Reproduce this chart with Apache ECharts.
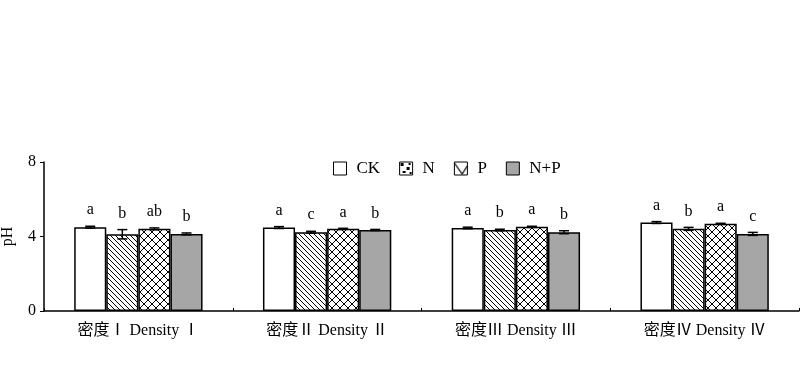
<!DOCTYPE html>
<html><head><meta charset="utf-8">
<script src="https://cdn.jsdelivr.net/npm/echarts@6/dist/echarts.min.js"></script>
<style>html,body{margin:0;padding:0;background:#fff}#c{width:800px;height:379px}</style>
</head><body><div id="c"></div>
<script>
const categories = ['密度Ⅰ Density Ⅰ', '密度Ⅱ Density Ⅱ', '密度Ⅲ Density Ⅲ', '密度Ⅳ Density Ⅳ'];
const seriesNames = ['CK', 'N', 'P', 'N+P'];
const valCK = [4.50, 4.48, 4.46, 4.75];
const valN  = [4.12, 4.23, 4.35, 4.41];
const valP  = [4.41, 4.41, 4.52, 4.68];
const valNP = [4.14, 4.35, 4.23, 4.14];
const errCK = [0.05, 0.05, 0.04, 0.05];
const errN  = [0.25, 0.05, 0.04, 0.08];
const errP  = [0.05, 0.03, 0.03, 0.03];
const errNP = [0.05, 0.03, 0.08, 0.08];
const letCK = ['a', 'a', 'a', 'a'];
const letN  = ['b', 'c', 'b', 'b'];
const letP  = ['ab', 'a', 'a', 'a'];
const letNP = ['b', 'b', 'b', 'c'];
const yTicks = [0, 4, 8];

const values = [valCK, valN, valP, valNP];
const errs = [errCK, errN, errP, errNP];
const lets = [letCK, letN, letP, letNP];

function pattern(kind, size) {
  const c = document.createElement('canvas');
  c.width = size; c.height = size;
  const g = c.getContext('2d');
  g.fillStyle = '#fff'; g.fillRect(0, 0, size, size);
  g.strokeStyle = '#000'; g.lineWidth = 1;
  if (kind === 'diag' || kind === 'cross') {
    g.beginPath();
    g.moveTo(-1, -1); g.lineTo(size + 1, size + 1);
    g.moveTo(-1, size - 1); g.lineTo(1, size + 1);
    g.moveTo(size - 1, -1); g.lineTo(size + 1, 1);
    g.stroke();
  }
  if (kind === 'cross') {
    g.beginPath();
    g.moveTo(-1, size + 1); g.lineTo(size + 1, -1);
    g.moveTo(-1, 1); g.lineTo(1, -1);
    g.moveTo(size - 1, size + 1); g.lineTo(size + 1, size - 1);
    g.stroke();
  }
  if (kind === 'check') {
    g.lineWidth = 1.2;
    g.beginPath();
    g.moveTo(0, 1); g.lineTo(size * 0.6, size - 1); g.lineTo(size, size * 0.3);
    g.stroke();
  }
  if (kind === 'dots') {
    g.fillStyle = '#000';
    g.fillRect(1, 1, 3, 3); g.fillRect(7, 5, 3, 3); g.fillRect(3, 9, 3, 2); g.fillRect(9, 1, 2, 2); g.fillRect(10, 10, 2, 2);
  }
  return { image: c, repeat: 'no-repeat' };
}

const fills = ['#ffffff', pattern('diag', 5), pattern('cross', 8), '#a6a6a6'];
fills[1].repeat = 'repeat'; fills[2].repeat = 'repeat';
const legendFills = ['#ffffff', pattern('dots', 13), pattern('check', 13), '#a6a6a6'];

const serif = '"Liberation Serif", "Times New Roman", serif';
const chart = echarts.init(document.getElementById('c'), null, { renderer: 'canvas' });

const series = [];
seriesNames.forEach((name, i) => {
  series.push({
    name: name,
    type: 'bar',
    data: values[i],
    barGap: '0%',
    barCategoryGap: '32%',
    itemStyle: { color: fills[i], borderColor: '#000', borderWidth: 1.5 },
    emphasis: { disabled: true },
    animation: false
  });
});
seriesNames.forEach((name, i) => {
  series.push({
    type: 'custom',
    data: values[i].map((v, k) => [k, v, errs[i][k]]),
    z: 5,
    animation: false,
    renderItem: function (params, api) {
      const k = api.value(0), v = api.value(1), e = api.value(2);
      const band = api.size([1, 0])[0];
      const barW = band * 0.68 / 4;
      const c0 = api.coord([k, v]);
      const x = c0[0] + (-1.5 + i) * barW;
      const top = api.coord([k, v + e])[1];
      const bot = api.coord([k, v - e])[1];
      const hw = 5;
      return {
        type: 'group',
        children: [
          { type: 'line', shape: { x1: x, y1: top, x2: x, y2: bot }, style: { stroke: '#000', lineWidth: 1.5 } },
          { type: 'line', shape: { x1: x - hw, y1: top, x2: x + hw, y2: top }, style: { stroke: '#000', lineWidth: 1.5 } },
          { type: 'line', shape: { x1: x - hw, y1: bot, x2: x + hw, y2: bot }, style: { stroke: '#000', lineWidth: 1.5 } },
          { type: 'text', style: { text: lets[i][k], x: x, y: top - 8, align: 'center', verticalAlign: 'bottom', font: '16px ' + serif, fill: '#000' } }
        ]
      };
    }
  });
});

chart.setOption({
  animation: false,
  grid: { left: 44, right: 1, top: 162, bottom: 68, outerBoundsMode: 'none', containLabel: false },
  legend: {
    top: 155, left: 328,
    itemWidth: 13, itemHeight: 13, itemGap: 19,
    textStyle: { fontFamily: serif, fontSize: 17, color: '#000', padding: [0, 0, 0, 5] },
    data: seriesNames.map((n, i) => ({ name: n, icon: 'rect', itemStyle: { color: legendFills[i], borderColor: '#000', borderWidth: 1 } }))
  },
  xAxis: {
    type: 'category',
    data: categories,
    axisLine: { lineStyle: { color: '#000', width: 1.5 } },
    axisTick: { show: true, inside: true, length: 3, lineStyle: { color: '#000' } },
    axisLabel: { fontFamily: '"Liberation Serif", "Noto Sans CJK SC", serif', fontSize: 16, color: '#000', margin: 12 }
  },
  yAxis: {
    type: 'value', min: yTicks[0], max: yTicks[yTicks.length - 1], interval: 4,
    name: 'pH', nameLocation: 'middle', nameGap: 28, nameRotate: 90,
    nameTextStyle: { fontFamily: serif, fontSize: 16, color: '#000' },
    axisLine: { show: true, lineStyle: { color: '#000', width: 1.5 } },
    axisTick: { show: true, length: 4, lineStyle: { color: '#000' } },
    axisLabel: { fontFamily: serif, fontSize: 16, color: '#000', margin: 8 },
    splitLine: { show: false }
  },
  series: series
});
</script></body></html>
